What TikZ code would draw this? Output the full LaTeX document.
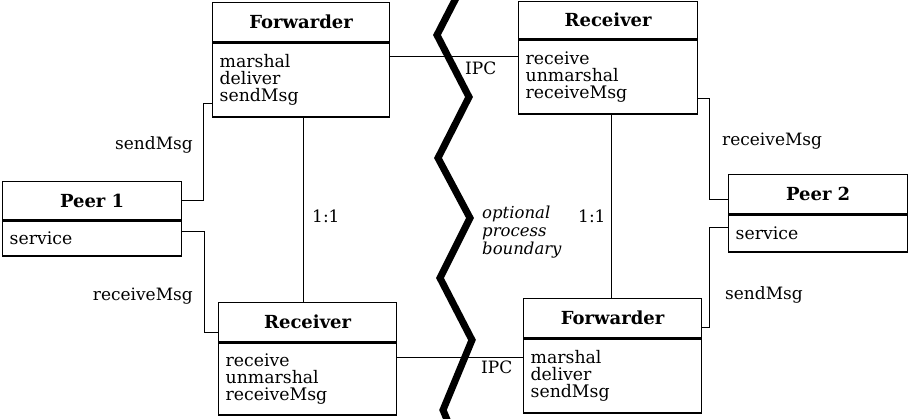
\documentclass[tikz,border=0pt]{standalone}
\usepackage{fontspec}
\setmainfont{DejaVu Serif}
\begin{document}
\begin{tikzpicture}[x=1pt,y=-1pt,
  ttl/.style={draw, line width=1.3pt, anchor=north west, inner sep=0pt,
    font=\fontsize{18}{19}\selectfont\bfseries},
  bdy/.style={draw, line width=1.3pt, anchor=north west, inner xsep=7pt, inner ysep=0pt,
    align=left, font=\fontsize{17.3}{17}\selectfont},
  conn/.style={line width=1pt},
  lbl/.style={inner sep=0pt, font=\fontsize{17}{17}\selectfont},
  zig/.style={line width=7pt, line join=miter, miter limit=10}]
\useasboundingbox (0,0) rectangle (911,418);

% Forwarder (top left)
\node[ttl, minimum width=177pt, minimum height=39pt] (f1t) at (212,2) {Forwarder};
\node[bdy, text width=163pt, minimum height=74pt] (f1b) at (f1t.south west) {marshal\\deliver\\sendMsg};
% Receiver (top right)
\node[ttl, minimum width=179pt, minimum height=37pt] (r2t) at (518,1) {Receiver};
\node[bdy, text width=165pt, minimum height=74pt] (r2b) at (r2t.south west) {receive\\unmarshal\\receiveMsg};
% Peer 1
\node[ttl, minimum width=179pt, minimum height=38pt] (p1t) at (2,181) {Peer 1};
\node[bdy, text width=165pt, minimum height=35pt] (p1b) at (p1t.south west) {service};
% Receiver (bottom left)
\node[ttl, minimum width=178pt, minimum height=39pt] (r1t) at (218,302) {Receiver};
\node[bdy, text width=164pt, minimum height=72pt] (r1b) at (r1t.south west) {receive\\unmarshal\\receiveMsg};
% Forwarder (bottom right)
\node[ttl, minimum width=178pt, minimum height=39pt] (f2t) at (523,298) {Forwarder};
\node[bdy, text width=164pt, minimum height=74pt] (f2b) at (f2t.south west) {marshal\\deliver\\sendMsg};
% Peer 2
\node[ttl, minimum width=179pt, minimum height=39pt] (p2t) at (728,174) {Peer 2};
\node[bdy, text width=165pt, minimum height=37pt] (p2b) at (p2t.south west) {service};

% connectors
\draw[conn] (p1t.east) -- ++(21,0) |- ([yshift=14pt]f1b.south west);
\draw[conn] ([yshift=7pt]p1b.east) -- ++(22,0) |- ([yshift=-10pt]r1t.west);
\draw[conn] ([xshift=2.5pt]f1b.south) -- ([xshift=2.5pt]f1b.south |- r1t.north);
\draw[conn] ([yshift=23pt]f1b.east) coordinate (ipca) -- (ipca -| r2b.west);
\draw[conn] ([yshift=-22pt]r2b.east) -- ++(11,0) |- ([yshift=-5pt]p2t.west);
\draw[conn] ([xshift=3.5pt]r2b.south) -- ([xshift=3.5pt]r2b.south |- f2t.north);
\draw[conn] ([yshift=5.5pt]p2b.west) -- ++(-19,0) |- ([yshift=-9.5pt]f2t.east);
\draw[conn] ([yshift=21pt]r1b.east) coordinate (ipcb) -- (ipcb -| f2b.west);

% labels
\node[lbl, anchor=base east] (l1) at (193,149) {sendMsg};
\node[lbl, anchor=base east] (l2) at (193,300) {receiveMsg};
\node[lbl, anchor=base west] (l3) at (722,145) {receiveMsg};
\node[lbl, anchor=base west] (l4) at (725,299) {sendMsg};
\node[lbl, anchor=base west] (l5) at (312,222) {1:1};
\node[lbl, anchor=base west] (l6) at (578,222) {1:1};
\node[lbl, anchor=base west] (l7) at (465,74) {IPC};
\node[lbl, anchor=base west] (l8) at (481,373) {IPC};
\node[lbl, anchor=north west, align=left, font=\fontsize{16.5}{18}\selectfont\itshape] (l9) at (482,206) {optional\\process\\boundary};

% process boundary
\draw[zig] (459,-8) -- (455,0) -- (437,35) -- (469,97) -- (438,158) -- (470,218)
  -- (440,278) -- (472,340) -- (443,410) -- (448,422);
\end{tikzpicture}
\end{document}
